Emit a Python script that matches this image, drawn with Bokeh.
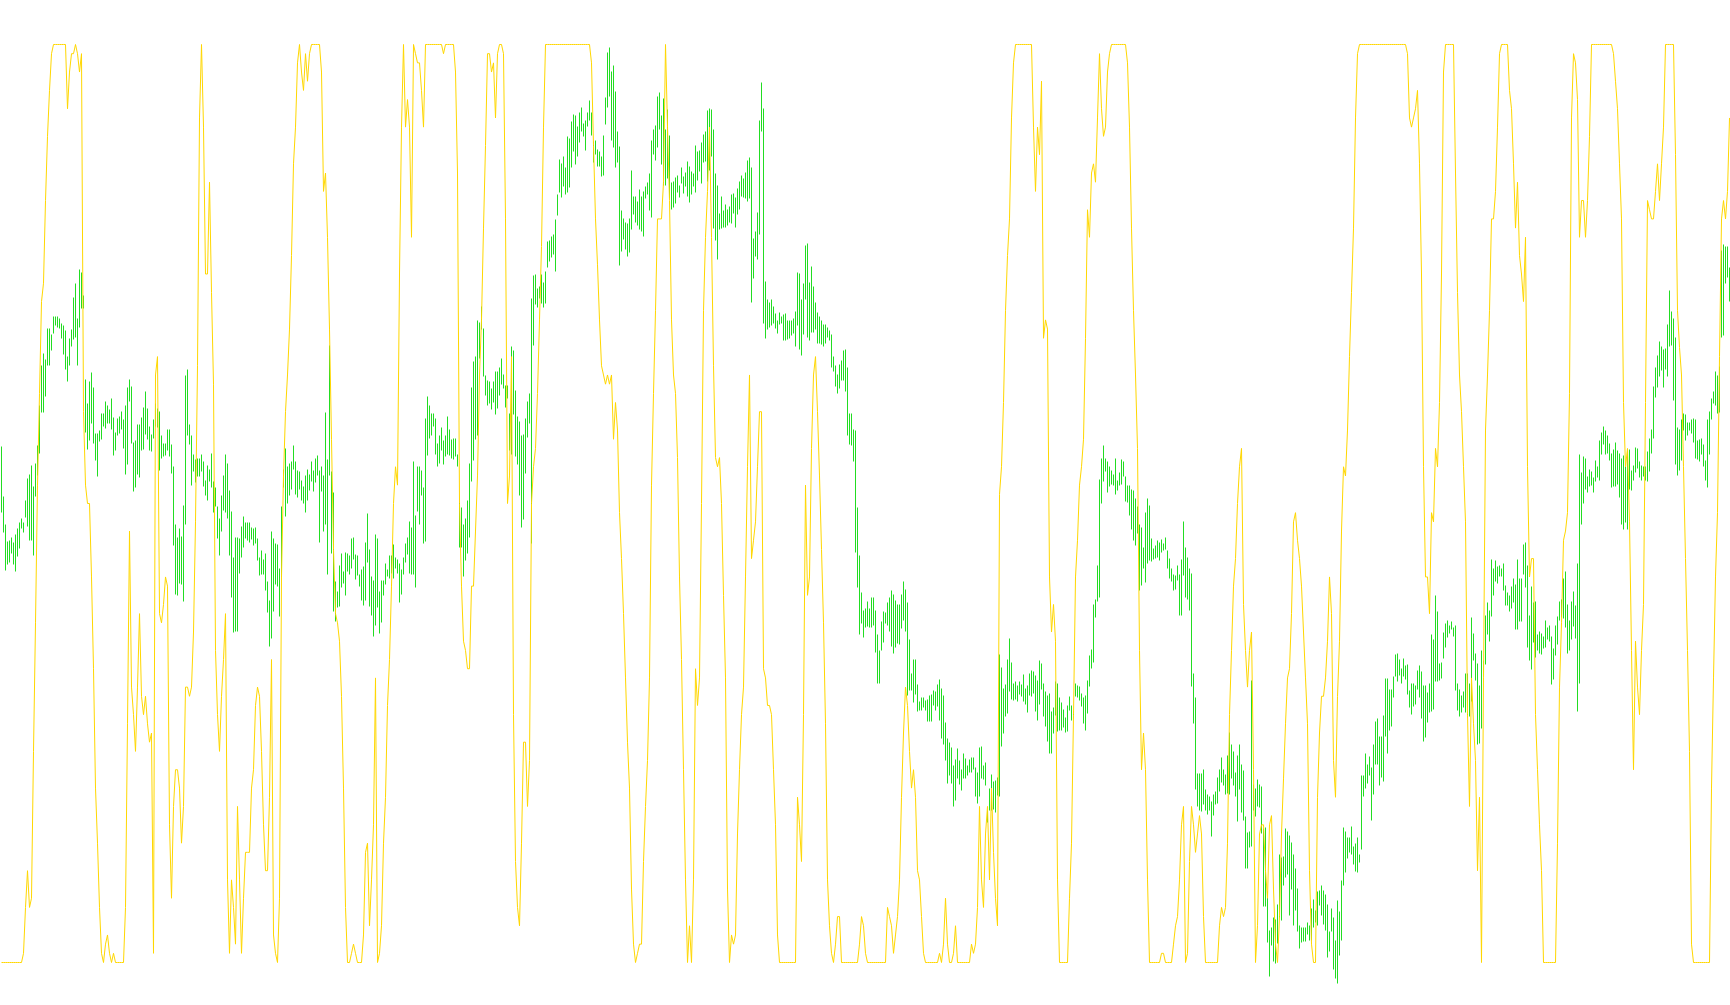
from bokeh.plotting import figure
from bokeh.models import Range1d, ColumnDataSource
from bokeh.embed import file_html
from bokeh.resources import INLINE

# Price bars (high / low, in price points), one entry per bar
HIGH = [
    554,504,476,459,460,463,458,466,472,478, 482,478,500,522,526,535,514,537,555,595,
    635,647,641,672,672,666,684,684,684,682, 677,675,670,644,662,671,703,717,682,731,
    728,705,621,597,619,628,613,567,567,570, 587,587,599,595,591,602,583,568,582,584,
    589,581,595,613,621,614,558,560,576,576, 583,593,609,592,574,566,581,597,592,589,
    565,557,557,571,571,556,534,476,463,472, 464,495,625,631,576,565,546,541,542,542,
    546,539,520,535,531,547,519,513,494,482, 505,525,546,537,510,489,443,463,463,462,
    474,484,478,478,
] + [
    478,473,472,473,462,443,450,441,447,419, 400,469,462,457,456,432,494,531,552,534,
    537,539,555,539,530,529,520,514,525,531, 526,539,530,542,545,530,534,525,588,541,
    655,529,508,419,409,435,447,429,448,447, 445,462,463,446,445,426,431,434,458,487,
    451,424,420,466,462,409,420,420,437,431, 445,445,456,443,441,437,431,443,457,463,
    479,473,539,485,534,534,530,513,582,604, 595,587,587,582,557,565,573,560,565,584,
    571,561,562,562,546,498,493,476,482,500, 537,613,639,644,680,678,694,672,625,620,
    619,612,619,629,
] + [
    629,633,642,626,615,615,587,654,650,610, 584,579,565,566,582,599,607,702,725,726,
    712,714,726,718,729,759,760,764,766,781, 806,841,837,844,833,864,862,879,886,885,
    874,888,893,877,880,888,900,888,859,860, 851,849,844,865,903,948,953,929,935,909,
    869,854,790,782,778,777,782,830,804,804, 799,811,804,809,814,818,827,860,871,875,
    904,908,885,902,871,891,865,818,819,823, 825,815,833,824,828,839,834,829,827,855,
    849,850,858,866,869,890,892,891,871,827, 815,787,804,790,796,791,794,806,807,803,
    812,819,825,822,
] + [
    828,840,843,833,762,769,788,880,918,892, 719,701,698,701,694,687,680,688,684,686,
    687,680,680,680,682,689,728,727,701,717, 755,757,718,734,714,698,688,684,680,676,
    676,673,670,666,644,635,626,636,640,650, 651,633,587,587,571,570,493,445,408,390,
    392,399,392,403,403,390,366,350,379,389, 388,398,403,410,406,400,396,396,406,419,
    411,398,361,327,341,341,316,299,303,303, 300,301,305,306,310,309,316,321,312,305,
    278,262,258,253,235,241,252,240,231,247, 242,235,241,243,243,233,228,253,254,235,
    238,190,212,226,
] + [
    219,220,223,346,333,312,316,341,362,338, 317,319,315,319,316,326,312,315,327,330,
    329,325,320,340,337,317,309,305,307,289, 293,319,317,303,298,291,283,295,304,295,
    289,317,315,314,307,303,305,320,345,351, 396,401,435,521,542,555,542,539,534,530,
    526,542,520,528,541,539,524,515,515,511, 510,502,494,476,473,453,488,502,495,462,
    452,455,460,458,461,457,463,450,442,432, 426,425,435,426,441,479,453,443,432,427,
    327,303,227,227,227,231,211,206,204,199, 206,209,223,231,243,231,226,245,268,256,
    249,228,245,256,
] + [
    236,230,184,168,169,320,216,212,221,216, 214,172,173,109,70,73,83,81,96,146,
    143,144,172,169,165,158,146,132,112,75, 73,73,73,78,75,92,101,90,109,110,
    115,110,106,96,69,92,83,60,100,89, 120,173,169,163,163,174,154,157,163,146,
    225,225,247,236,244,233,256,279,282,264, 264,285,322,322,311,311,324,346,347,341,
    332,342,335,336,310,317,317,315,330,335, 329,315,315,308,317,366,361,405,389,337,
    338,368,377,380,375,379,373,375,317,311, 305,309,327,327,317,383,367,347,337,315,
    350,340,385,398,
] + [
    390,441,432,440,434,435,432,437,415,408, 405,414,422,416,441,422,422,456,458,435,
    385,414,398,399,366,369,367,364,380,373, 375,364,352,375,384,399,401,422,429,396,
    380,399,409,395,437,546,528,544,542,524, 531,529,523,540,534,560,568,574,570,565,
    557,547,551,558,550,547,542,545,537,551, 551,530,535,553,552,539,535,534,534,549,
    562,571,614,633,645,659,654,651,652,676, 710,689,682,663,573,571,581,587,586,578,
    578,581,582,581,560,561,562,556,540,581, 589,602,609,629,625,634,750,756,754,754,
    733,
]

LOW = [
    488,468,430,436,438,447,436,429,444,452, 472,468,483,474,460,460,445,504,525,547,
    588,588,604,635,635,650,667,675,673,672, 662,646,631,619,635,654,661,663,635,673,
    692,692,568,551,560,577,557,540,524,559, 561,574,572,577,577,571,545,550,565,567,
    571,552,526,536,599,557,509,513,526,523, 550,551,566,561,550,549,562,574,573,530,
    542,544,545,550,544,527,455,406,405,417, 416,399,476,565,556,515,529,518,524,524,
    529,514,505,500,519,513,488,494,462,445, 469,490,488,482,445,403,368,369,369,427,
    443,453,462,460,
] + [
    458,461,455,457,440,425,426,426,410,388, 354,362,389,416,414,384,421,513,484,497,
    505,511,531,506,503,511,500,497,488,500, 510,519,509,518,525,458,509,469,476,426,
    525,447,389,379,393,394,413,417,405,429, 426,432,441,421,425,414,400,395,400,438,
    394,385,364,375,393,367,378,405,416,424, 422,427,422,432,427,398,406,426,438,446,
    427,426,426,413,489,476,505,457,459,545, 562,565,574,546,534,537,550,536,544,546,
    545,542,541,544,534,453,453,424,440,447, 463,519,540,561,565,642,671,624,605,595,
    597,591,598,586,
] + [
    592,605,616,612,593,602,550,546,586,544, 536,505,473,481,527,563,577,457,655,696,
    693,702,697,693,697,733,739,743,746,729, 785,808,803,814,806,808,813,833,849,836,
    844,858,869,864,850,874,880,865,838,846, 834,834,824,825,876,893,904,860,853,833,
    838,735,749,761,751,744,748,771,786,778, 775,771,769,764,802,806,790,783,846,840,
    853,871,836,815,815,822,802,791,793,797, 808,803,817,807,814,804,798,806,814,808,
    820,829,817,838,839,819,830,844,772,760, 741,771,772,773,773,775,778,777,787,773,
    786,791,804,803,
] + [
    802,799,802,698,722,744,741,766,869,677, 662,671,673,675,677,672,667,676,677,660,
    660,661,662,665,667,654,675,651,645,666, 701,663,660,668,668,671,657,657,656,654,
    657,663,660,633,629,614,607,612,620,620, 609,565,556,555,539,448,413,366,377,363,
    373,374,373,373,375,348,317,317,350,358, 377,375,369,354,347,353,357,356,372,380,
    369,305,310,310,298,306,289,290,290,293, 290,279,279,279,295,290,294,280,262,256,
    240,217,225,217,194,200,222,216,210,222, 222,225,228,228,231,204,197,204,222,221,
    215,178,190,190,
] + [
    191,188,205,204,254,267,284,287,309,301, 300,301,299,306,304,299,296,288,305,304,
    307,289,280,296,311,284,274,259,247,247, 267,285,269,270,270,273,268,269,290,280,
    282,304,303,300,294,277,270,287,314,332, 338,383,399,403,497,519,529,508,514,516,
    515,506,510,515,516,524,499,498,485,471, 460,455,467,410,415,432,418,437,440,439,
    441,442,443,440,448,450,451,432,422,419, 410,411,420,385,385,425,403,401,390,314,
    277,211,194,190,189,196,190,186,190,164, 185,196,197,209,218,215,206,207,206,222,
    215,204,179,211,
] + [
    188,180,132,132,153,154,190,184,194,193, 167,94,94,58,24,55,39,37,57,83,
    80,115,123,126,85,111,75,90,69,52, 58,59,59,66,60,60,73,78,75,95,
    85,76,70,43,49,69,31,22,17,45, 60,115,128,142,148,146,136,129,128,138,
    151,204,212,217,225,180,206,236,236,215, 223,219,264,247,270,274,303,324,319,325,
    317,324,321,306,293,286,294,296,311,303, 282,259,263,278,288,289,291,319,319,320,
    322,342,353,363,367,371,364,310,290,284, 288,293,288,283,284,299,340,320,256,257,
    272,324,336,366,
] + [
    359,384,405,419,417,424,424,410,395,395, 389,392,398,371,371,379,379,426,413,353,
    340,331,358,343,350,347,346,352,353,361, 359,316,321,345,356,380,383,382,373,347,
    350,361,374,362,289,317,476,497,511,508, 514,515,508,519,523,520,546,556,546,547,
    540,513,514,514,516,503,476,471,478,471, 511,510,520,528,532,523,520,524,520,519,
    529,547,562,603,613,624,630,613,631,624, 654,655,600,536,525,530,540,570,560,565,
    570,567,558,542,541,539,546,534,520,513, 546,581,597,595,587,588,663,665,717,723,
    699,
]

# Oscillator (0-100), one value per bar
STOCH = [
    0,0,0,0,0,0,0,0,0,0, 0,1,6,10,6,7,23,37,52,62, 72,74,83,90,95,99,100,100,100,100,
    100,100,100,93,97,99,99,100,99,97, 99,60,52,50,50,42,32,19,13,6, 1,0,2,3,1,0,1,0,0,0,
    0,0,6,26,47,30,27,23,30,38, 29,27,29,26,24,25,1,64,66,38, 37,39,42,41,15,7,17,21,21,19,
    13,17,30,30,29,30,36,48,65,92, 100,91,75,75,85,73,63,34,27,23, 29,33,38,9,1,9,6,2,17,9,
    1,7,12,12,
] + [
    12,19,21,28,30,29,23,15,10,10, 18,33,3,1,0,7,42,53,60,64, 69,77,87,91,98,100,97,95,99,96,
    99,100,100,100,100,100,97,84,86,79, 69,57,45,38,37,35,29,19,6,0, 0,1,2,1,0,0,0,3,12,13,
    4,9,15,31,0,1,4,13,18,28, 33,41,50,54,52,75,91,100,91,94, 91,79,100,99,98,98,95,91,100,100,
    100,100,100,100,100,100,100,99,100,100, 100,100,100,97,86,50,41,35,34,32, 32,41,41,47,53,64,70,80,89,99,
    99,97,98,92,
] + [
    99,100,100,99,81,50,53,66,27,11, 6,4,13,24,24,17,22,50,54,56, 62,70,78,91,100,100,100,100,100,100,
    100,100,100,100,100,100,100,100,100,100, 100,100,100,100,100,100,100,98,89,81, 76,70,65,64,63,64,63,64,57,61,
    58,49,44,38,31,24,19,8,2,0, 1,2,2,11,17,22,31,52,62,71, 81,81,81,85,100,91,83,70,64,62,
    55,42,33,21,9,0,4,0,9,32, 28,31,50,71,79,84,91,79,65,55, 54,55,50,40,31,8,0,3,2,3,
    14,21,27,30,
] + [
    42,54,64,44,46,48,54,60,60,32, 31,28,28,27,21,15,3,0,0,0, 0,0,0,0,0,0,18,15,11,27,
    52,40,42,56,64,66,60,53,45,37, 26,9,4,1,0,2,5,5,0,0, 0,0,0,0,0,0,0,2,5,4,
    1,0,0,0,0,0,0,0,0,0, 0,6,5,4,1,3,5,9,18,25, 30,28,23,19,21,18,10,9,5,1,
    0,0,0,0,0,0,0,1,0,2, 7,2,0,0,1,4,0,0,0,0, 0,0,0,2,1,2,6,17,9,6,
    14,17,9,19,
] + [
    12,7,4,51,54,61,71,77,81,92, 98,100,100,100,100,100,100,100,100,100, 91,84,91,88,96,68,70,69,42,36,
    39,35,9,0,0,0,0,0,7,13, 27,42,46,52,54,57,68,82,79,86, 87,85,92,99,93,90,91,97,99,100,
    100,100,100,100,100,100,100,98,91,80, 71,64,56,34,21,25,21,9,0,0, 0,0,0,0,1,1,0,0,0,0,
    2,4,5,9,15,17,0,1,11,17, 15,12,14,16,14,5,0,0,0,0, 0,0,0,4,6,5,6,13,27,34,
    41,44,50,54,
] + [
    56,39,34,30,34,36,21,0,4,14, 15,15,10,7,15,16,8,2,0,5, 14,20,26,31,32,38,48,49,46,44,
    41,36,31,26,10,2,0,0,18,25, 29,29,31,35,42,38,22,18,29,35, 47,54,53,58,66,73,80,92,99,100,
    100,100,100,100,100,100,100,100,100,100, 100,100,100,100,100,100,100,100,100,100, 100,100,100,99,92,91,92,93,95,87,
    75,54,42,42,38,49,48,56,54,61, 75,97,100,100,100,100,100,86,73,64, 60,54,48,27,17,31,26,22,10,18,
    0,31,58,64,
] + [
    71,81,81,84,91,99,100,100,100,100, 95,93,87,80,85,77,75,72,79,54, 42,44,44,27,21,15,10,0,0,0,
    0,0,0,0,13,30,37,46,47,49, 62,92,99,98,94,79,83,83,79,83, 90,100,100,100,100,100,100,100,100,100,
    100,100,99,96,93,87,81,61,54,56, 48,34,21,35,30,27,34,39,61,83, 82,81,81,84,87,83,87,91,100,100,
    100,100,100,88,71,67,64,54,44,34, 23,2,0,0,0,0,0,0,0,0, 0,19,31,42,49,66,81,83,81,84,
    92,
]

BAR_COLOR = "#22DD22"
OSC_COLOR = "#FFD700"

n = min(len(HIGH), len(LOW), len(STOCH))
bars = list(range(n))

p = figure(width=1730, height=1005, output_backend="svg", toolbar_location=None,
           x_range=Range1d(-0.5, 864.5), y_range=Range1d(-5, 1000),
           x_axis_type=None, y_axis_type=None, min_border=0)
p.extra_y_ranges = {"osc": Range1d(-4.684, 104.793)}
p.outline_line_color = None
p.background_fill_color = "white"
p.border_fill_color = "white"

src = ColumnDataSource(dict(bar=bars, high=HIGH[:n], low=LOW[:n]))
p.segment(x0="bar", y0="low", x1="bar", y1="high", source=src,
          line_color=BAR_COLOR, line_width=1)
p.line(bars, STOCH[:n], y_range_name="osc", line_color=OSC_COLOR, line_width=1)

open("out.html", "w").write(file_html(p, INLINE))
